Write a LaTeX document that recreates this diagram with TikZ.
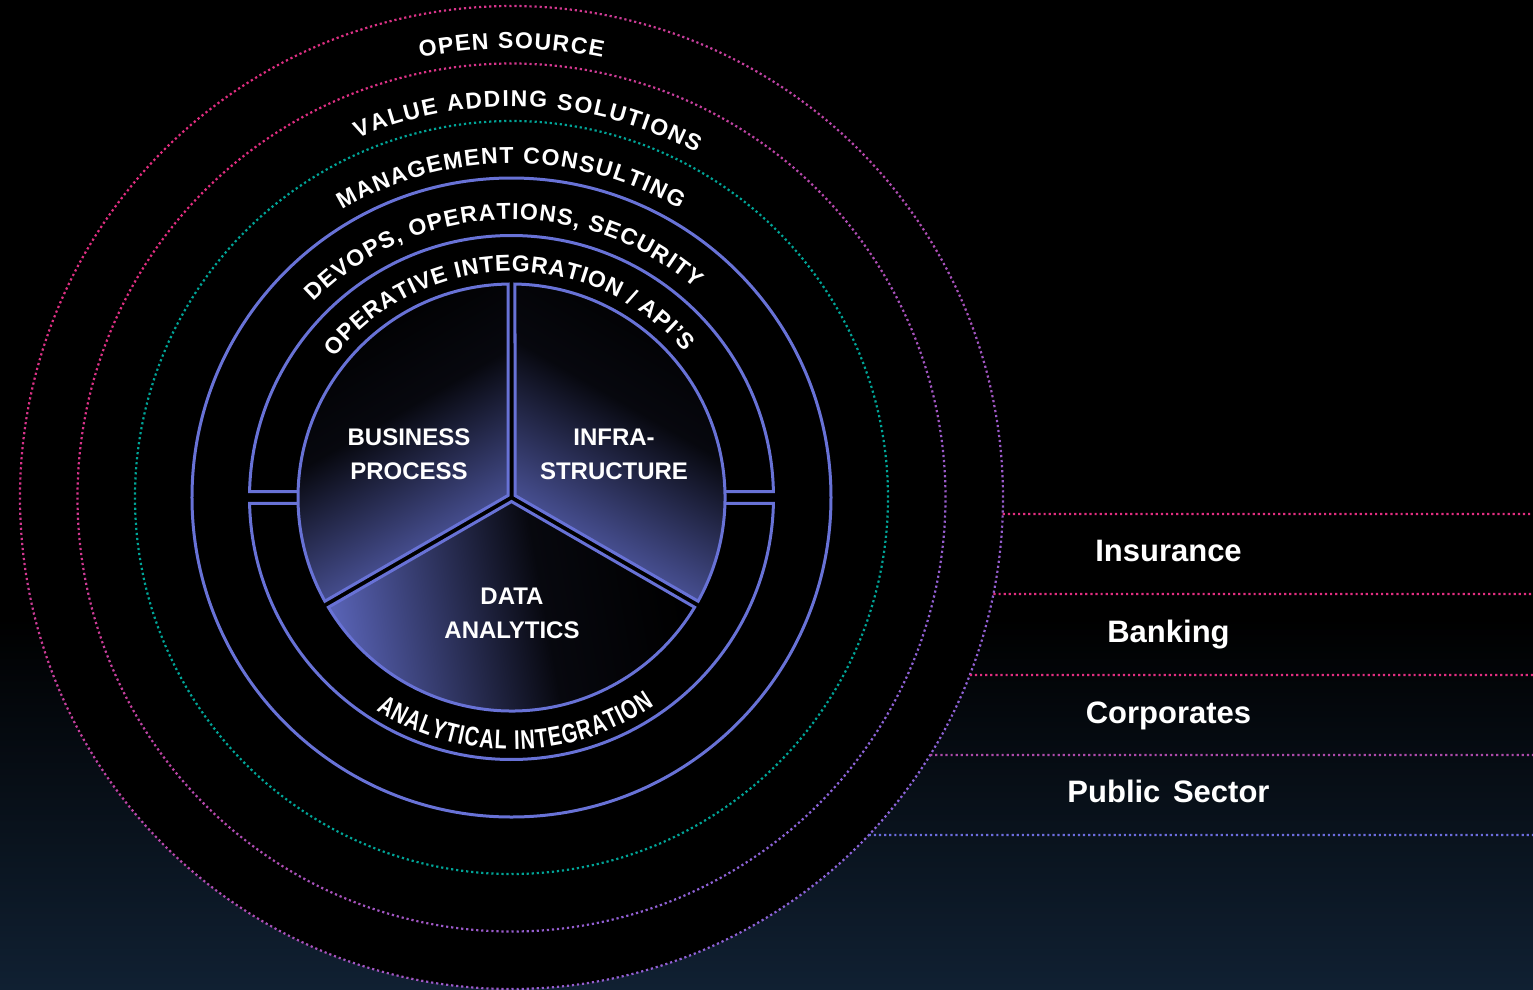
\documentclass[tikz,border=0pt]{standalone}
\usepackage{fontspec}
\setmainfont{Liberation Sans}
\newfontfamily\condfont[FakeStretch=0.74]{Liberation Sans}
\usetikzlibrary{decorations.text}

\definecolor{ringpink}{RGB}{226,46,128}
\definecolor{ringviolet}{RGB}{140,100,218}
\definecolor{ringteal}{RGB}{0,165,152}
\definecolor{lineblue}{RGB}{104,114,214}
\definecolor{paneblue}{RGB}{88,98,180}
\definecolor{rowviolet}{RGB}{108,108,222}
\definecolor{glownavy}{RGB}{16,32,50}
\colorlet{rowmix}{ringpink!55!rowviolet}

% ramp used for the three pie panes: black -> blue along the shading axis
\pgfdeclarehorizontalshading{paneshade}{100bp}{%
  color(0bp)=(black); color(25bp)=(black); color(45bp)=(black!92!paneblue);
  color(75bp)=(paneblue); color(100bp)=(paneblue)}

\tikzset{
  dotline/.style={line width=2.2pt, dash pattern=on 2.2pt off 2.9pt},
  solidring/.style={draw=lineblue, line width=3pt},
  pane/.style={draw=lineblue, line width=3pt, shading=paneshade},
  ringtext/.style={decorate, decoration={text along path, text color=white,
      text align=fit to path}},
  panelabel/.style={text=white, font=\bfseries\fontsize{24}{34}\selectfont,
      align=center},
  rowlabel/.style={text=white, font=\bfseries\fontsize{31}{31}\selectfont,
      anchor=base},
}

% dotted circle whose colour turns from #3 (upper left) to #4 (lower right)
\newcommand\gradring[4]{%
  \pgfmathsetmacro\dotper{2*pi*#1/(36*#2)}%
  \pgfmathsetmacro\dotgap{\dotper-2.2}%
  \foreach \k in {0,...,35}{%
    \pgfmathsetmacro\mixpct{100*(1-cos(\k*10+5-135))/2}%
    \draw[line width=2.2pt, dash pattern=on 2.2pt off \dotgap pt, color=#4!\mixpct!#3]
      (\k*10:#1) arc[start angle=\k*10, end angle=\k*10+10, radius=#1];
  }}

% one pie pane between angles #1 and #2, shading turned by #3
\newcommand\piepane[3]{%
  \pgfmathsetmacro\apexd{3.5/sin(60)}%
  \pgfmathsetmacro\bis{(#1+#2)/2}%
  \pgfmathsetmacro\dl{asin(3.5/213.5)}%
  \shade[pane, shading angle=#3] (\bis:\apexd) -- ({#1+\dl}:213.5)
    arc[start angle={#1+\dl}, end angle={#2-\dl}, radius=213.5] -- cycle;
}

\begin{document}
\begin{tikzpicture}[x=1pt, y=1pt]
  \useasboundingbox (-511.5,-491.5) rectangle (1021.5,497.5);
  % backdrop with a faint navy haze towards the bottom
  \fill[black] (-511.5,-491.5) rectangle (1021.5,497.5);
  \shade[top color=black, bottom color=glownavy] (-511.5,-491.5) rectangle (1021.5,-120);
  \fill[black] (0,0) circle (491.5);

  % outer dotted rings
  \gradring{491.5}{17}{ringpink}{ringviolet}
  \gradring{434}{15}{ringpink}{ringviolet}
  \gradring{376.5}{13}{ringteal}{ringteal}

  % sector rows on the right
  \foreach \n/\yy/\c in {1/16.5/ringpink, 2/96.5/ringpink, 3/177.5/ringpink,
                         4/257.5/rowmix, 5/337.5/rowviolet}{
    \coordinate (rowL\n) at ({-asin(\yy/491.5)}:491.5);
    \coordinate (rowR\n) at (1021.5,-\yy);
    \draw[dotline, \c] (rowL\n) -- (rowR\n);
  }
  \node[rowlabel] (insurance)  at (657,-63.5)  {Insurance};
  \node[rowlabel] (banking)    at (657,-144.5) {Banking};
  \node[rowlabel] (corporates) at (657,-225.5) {Corporates};
  \node[rowlabel] (public)     at (657,-304.5) {Public\hspace{4pt} Sector};

  % solid rings
  \draw[solidring] (0,0) circle (319.5);
  \pgfmathsetmacro\ao{asin(5.8/262)}
  \pgfmathsetmacro\xo{262*cos(\ao)}
  \pgfmathsetmacro\xi{213.5*cos(asin(5.8/213.5))}
  \draw[solidring] (-\xi,5.8) -- (-\xo,5.8)
    arc[start angle=180-\ao, end angle=\ao, radius=262] -- (\xi,5.8);
  \draw[solidring] (-\xi,-5.8) -- (-\xo,-5.8)
    arc[start angle=180+\ao, end angle=360-\ao, radius=262] -- (\xi,-5.8);

  % pie panes
  \piepane{90}{210}{-60}
  \piepane{-30}{90}{240}
  \piepane{210}{330}{190}

  \node[panelabel] (bp)    at (-102.5,43.5)  {BUSINESS\\PROCESS};
  \node[panelabel] (infra) at (102.5,43.5)   {INFRA-\\STRUCTURE};
  \node[panelabel] (da)    at (0.5,-115.5)   {DATA\\ANALYTICS};

  % curved ring captions
  \path[ringtext, decoration={text={|\bfseries\fontsize{23}{24}\selectfont|OPEN SOURCE}}]
    (101.7:449) arc[start angle=101.7, end angle=78.3, radius=449];
  \path[ringtext, decoration={text={|\bfseries\fontsize{23}{24}\selectfont|VALUE ADDING SOLUTIONS}}]
    (113.2:391) arc[start angle=113.2, end angle=61.8, radius=391];
  \path[ringtext, decoration={text={|\bfseries\fontsize{23}{24}\selectfont|MANAGEMENT CONSULTING}}]
    (120.5:334) arc[start angle=120.5, end angle=59.8, radius=334];
  \path[ringtext, decoration={text={|\bfseries\fontsize{23}{24}\selectfont|DEVOPS, OPERATIONS, SECURITY}}]
    (135.3:278) arc[start angle=135.3, end angle=48.7, radius=278];
  \path[ringtext, decoration={text={|\bfseries\fontsize{23}{24}\selectfont|OPERATIVE INTEGRATION / API’S}}]
    (141.6:226) arc[start angle=141.6, end angle=40, radius=226];
  \path[ringtext, decoration={text={|\condfont\bfseries\fontsize{27}{28}\selectfont|ANALYTICAL INTEGRATION}}]
    (237.5:252) arc[start angle=237.5, end angle=304.5, radius=252];
\end{tikzpicture}
\end{document}
